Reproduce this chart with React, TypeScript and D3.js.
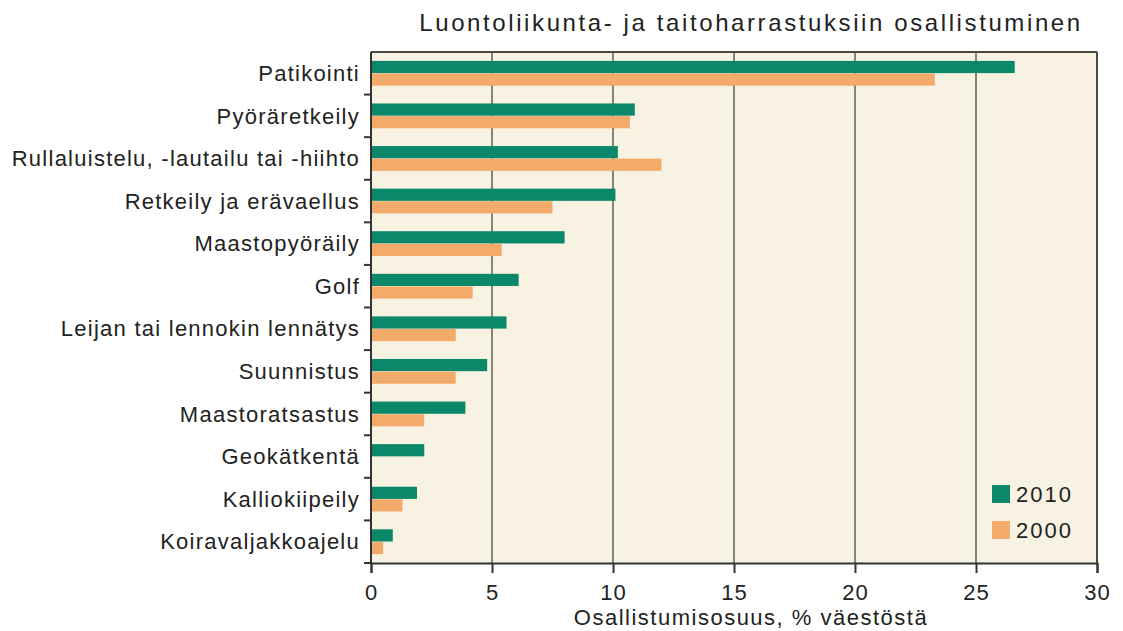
import React, { useRef, useEffect } from 'react';
import * as d3 from 'd3';

const categories = [
  'Patikointi',
  'Pyöräretkeily',
  'Rullaluistelu, -lautailu tai -hiihto',
  'Retkeily ja erävaellus',
  'Maastopyöräily',
  'Golf',
  'Leijan tai lennokin lennätys',
  'Suunnistus',
  'Maastoratsastus',
  'Geokätkentä',
  'Kalliokiipeily',
  'Koiravaljakkoajelu',
];
const values2010 = [26.6, 10.9, 10.2, 10.1, 8.0, 6.1, 5.6, 4.8, 3.9, 2.2, 1.9, 0.9];
const values2000 = [23.3, 10.7, 12.0, 7.5, 5.4, 4.2, 3.5, 3.5, 2.2, 0, 1.3, 0.5];
const seriesNames = ['2010', '2000'];
const xTicks = [0, 5, 10, 15, 20, 25, 30];

const title = 'Luontoliikunta- ja taitoharrastuksiin osallistuminen';
const xTitle = 'Osallistumisosuus, % väestöstä';

const App = () => {
  const svgRef = useRef(null);

  useEffect(() => {
    const width = 1123;
    const height = 631;
    const margin = { top: 52, right: 26, bottom: 68, left: 371 };
    const innerW = width - margin.left - margin.right;
    const innerH = height - margin.top - margin.bottom;
    const font = 'Arial, "Liberation Sans", Helvetica, sans-serif';
    const colors = { '2010': '#0b8869', '2000': '#f3ab6c' };

    const data = categories.map((c, i) => ({
      category: c,
      values: [
        { key: '2010', value: values2010[i] },
        { key: '2000', value: values2000[i] },
      ],
    }));

    d3.select(svgRef.current).selectAll('*').remove();

    const svg = d3.select(svgRef.current)
      .attr('width', width)
      .attr('height', height);

    svg.append('rect').attr('width', width).attr('height', height).attr('fill', '#ffffff');

    const g = svg.append('g').attr('transform', `translate(${margin.left},${margin.top})`);

    const x = d3.scaleLinear().domain([0, 30]).range([0, innerW]);
    const y0 = d3.scaleBand().domain(categories).range([0, innerH]).paddingInner(0.4).paddingOuter(0.2);
    const y1 = d3.scaleBand().domain(seriesNames).range([0, y0.bandwidth()]).padding(0.03);
    const step = y0.step();

    // plot background
    g.append('rect')
      .attr('width', innerW)
      .attr('height', innerH)
      .attr('fill', '#f7f2e2');

    // vertical grid lines
    g.selectAll('.grid')
      .data(xTicks.slice(1, -1))
      .join('line')
      .attr('class', 'grid')
      .attr('x1', d => x(d))
      .attr('x2', d => x(d))
      .attr('y1', 0)
      .attr('y2', innerH)
      .attr('stroke', '#85847a')
      .attr('stroke-width', 2);

    // bars
    const groups = g.selectAll('.cat')
      .data(data)
      .join('g')
      .attr('class', 'cat')
      .attr('transform', d => `translate(0,${y0(d.category)})`);

    groups.selectAll('rect')
      .data(d => d.values.filter(v => v.value > 0))
      .join('rect')
      .attr('x', 0)
      .attr('y', d => y1(d.key))
      .attr('width', d => x(d.value))
      .attr('height', y1.bandwidth())
      .attr('fill', d => colors[d.key]);

    // frame (top and right)
    g.append('line').attr('x1', 0).attr('x2', innerW).attr('y1', 0).attr('y2', 0)
      .attr('stroke', '#4a4a44').attr('stroke-width', 2);
    g.append('line').attr('x1', innerW).attr('x2', innerW).attr('y1', 0).attr('y2', innerH)
      .attr('stroke', '#4a4a44').attr('stroke-width', 2);

    // x axis
    const xAxis = g.append('g')
      .attr('transform', `translate(0,${innerH})`)
      .call(d3.axisBottom(x).tickValues(xTicks).tickSize(10).tickPadding(11));
    xAxis.select('.domain').attr('stroke', '#333').attr('stroke-width', 2);
    xAxis.selectAll('.tick line').attr('stroke', '#333').attr('stroke-width', 2);
    xAxis.selectAll('.tick text')
      .attr('font-family', font)
      .attr('font-size', 22)
      .attr('letter-spacing', 1)
      .attr('fill', '#222');

    // y axis: ticks sit at the category boundaries
    const boundaries = categories.slice(1).map(c => y0(c) - step * 0.2);
    boundaries.push(innerH);
    g.append('line').attr('x1', 0).attr('x2', 0).attr('y1', 0).attr('y2', innerH)
      .attr('stroke', '#333').attr('stroke-width', 2);
    g.selectAll('.ytick')
      .data(boundaries)
      .join('line')
      .attr('class', 'ytick')
      .attr('x1', -7)
      .attr('x2', 0)
      .attr('y1', d => d)
      .attr('y2', d => d)
      .attr('stroke', '#333')
      .attr('stroke-width', 2);

    g.selectAll('.ylabel')
      .data(categories)
      .join('text')
      .attr('class', 'ylabel')
      .attr('x', -11)
      .attr('y', d => y0(d) + y0.bandwidth() / 2)
      .attr('dy', '0.35em')
      .attr('text-anchor', 'end')
      .attr('font-family', font)
      .attr('font-size', 22)
      .attr('letter-spacing', 1.25)
      .attr('fill', '#222')
      .text(d => d);

    // title
    svg.append('text')
      .attr('x', 751)
      .attr('y', 31)
      .attr('text-anchor', 'middle')
      .attr('font-family', font)
      .attr('font-size', 24)
      .attr('letter-spacing', 2.6)
      .attr('fill', '#222')
      .text(title);

    // x axis title
    svg.append('text')
      .attr('x', 751)
      .attr('y', 625)
      .attr('text-anchor', 'middle')
      .attr('font-family', font)
      .attr('font-size', 22)
      .attr('letter-spacing', 1.5)
      .attr('fill', '#222')
      .text(xTitle);

    // legend
    const legend = svg.append('g').attr('transform', 'translate(992,485)');
    seriesNames.forEach((s, i) => {
      const row = legend.append('g').attr('transform', `translate(0,${i * 36})`);
      row.append('rect').attr('width', 18).attr('height', 18).attr('fill', colors[s]);
      row.append('text')
        .attr('x', 24)
        .attr('y', 9)
        .attr('dy', '0.35em')
        .attr('font-family', font)
        .attr('font-size', 22)
        .attr('letter-spacing', 2)
        .attr('fill', '#222')
        .text(s);
    });
  }, []);

  return <svg ref={svgRef} style={{ position: 'absolute', left: 0, top: 0, display: 'block' }}></svg>;
};

export default App;
